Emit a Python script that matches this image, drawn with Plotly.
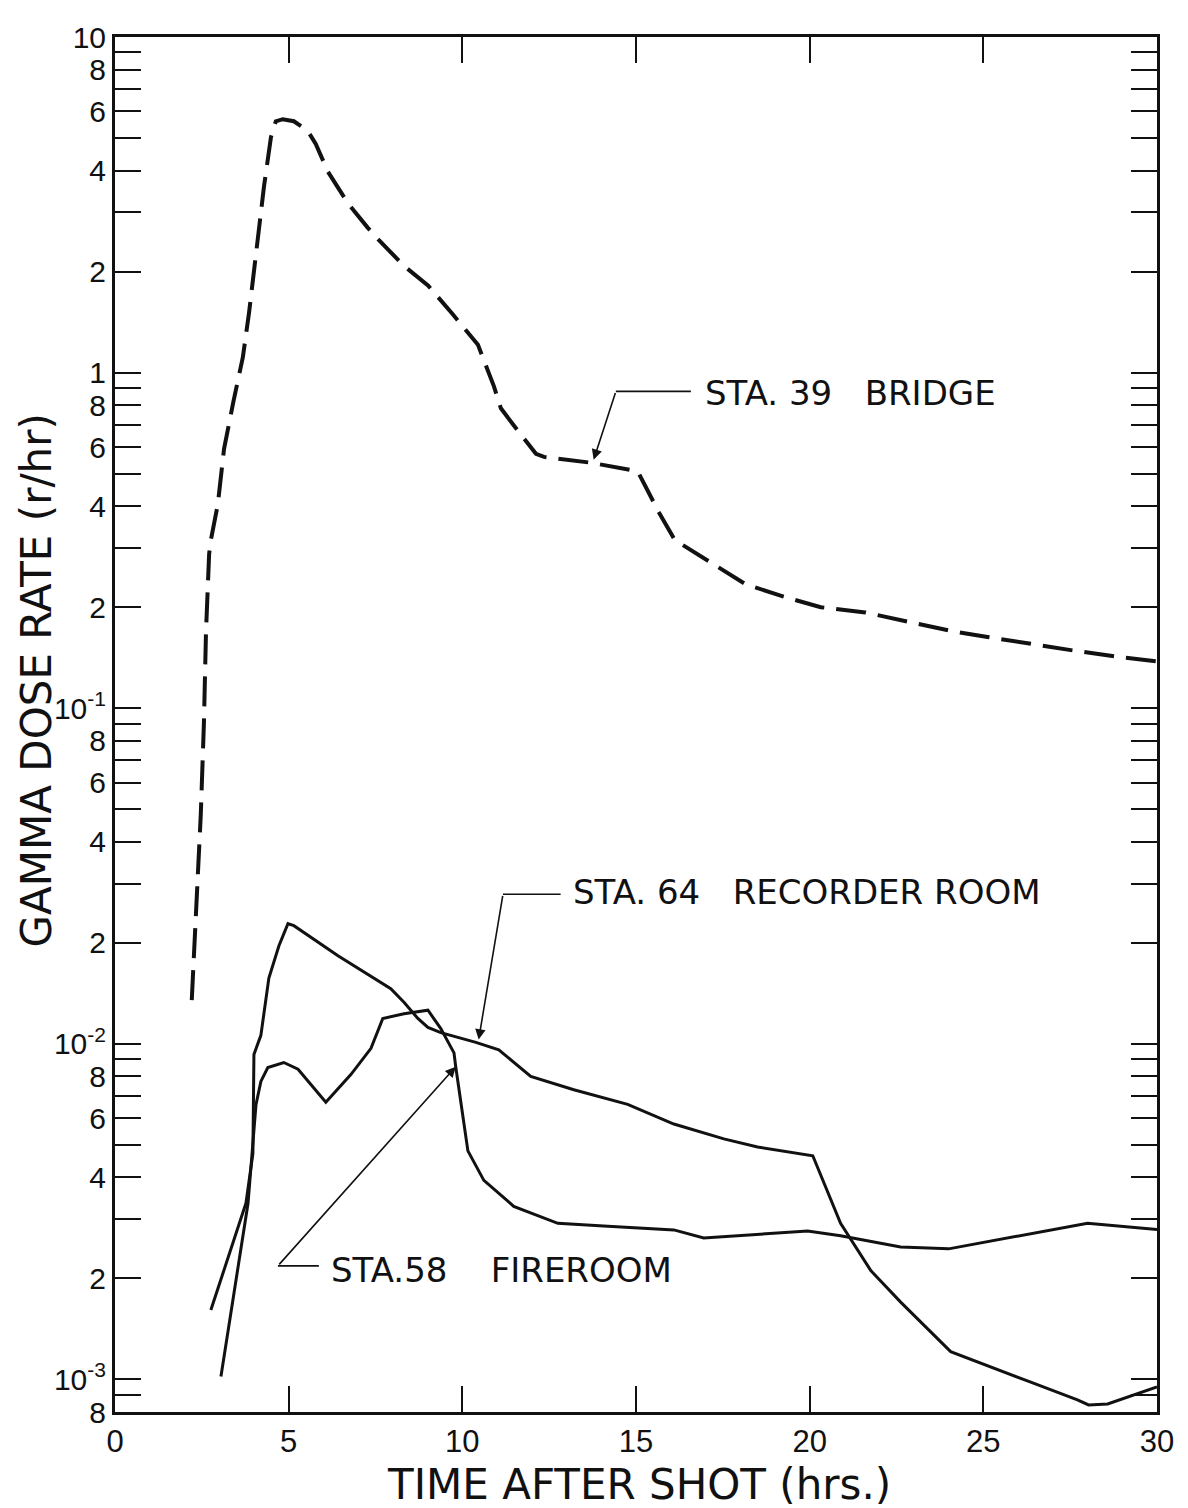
import numpy as np
import plotly.graph_objects as go

# ---------------- data ----------------
bridge_t = [2.21, 2.39, 2.47, 2.56, 2.62, 2.71, 2.76, 2.96, 3.14, 3.40,
            3.68, 3.86, 4.00, 4.12, 4.29, 4.49, 4.63, 4.83, 5.15, 5.55,
            5.78, 6.13, 6.71, 7.28, 7.60, 8.32, 9.01, 9.73, 10.45, 10.91,
            11.11, 11.45, 12.12, 12.35, 13.70, 15.05, 15.65, 16.12, 16.43, 18.16,
            19.25, 20.32, 21.6, 22.8, 24.06, 25.12, 26.4, 27.7, 28.95, 30.0]
bridge_rate = [0.0135, 0.0303, 0.0483, 0.0904, 0.169, 0.288, 0.317, 0.405, 0.593, 0.811,
               1.11, 1.51, 2.03, 2.61, 3.59, 5.03, 5.61, 5.69, 5.61, 5.25,
               4.80, 3.97, 3.19, 2.70, 2.48, 2.08, 1.82, 1.49, 1.21, 0.91,
               0.783, 0.703, 0.573, 0.561, 0.539, 0.508, 0.385, 0.317, 0.303, 0.234,
               0.215, 0.200, 0.193, 0.181, 0.170, 0.163, 0.155, 0.148, 0.142, 0.138]

recorder_t = [2.76, 3.77, 3.97, 4.00, 4.20, 4.43, 4.72, 4.98, 5.15, 6.42,
              7.94, 8.32, 8.72, 9.01, 9.38, 10.39, 11.05, 11.97, 13.21, 14.76,
              16.09, 17.53, 18.50, 20.09, 20.89, 21.76, 22.62, 24.06, 26.27, 27.71,
              28.03, 28.58, 30.0]
recorder_rate = [1.61e-3, 3.35e-3, 4.71e-3, 9.3e-3, 1.06e-2, 1.57e-2, 1.96e-2, 2.28e-2, 2.25e-2, 1.83e-2,
                 1.46e-2, 1.33e-2, 1.19e-2, 1.12e-2, 1.08e-2, 1.01e-2, 9.6e-3, 8.0e-3, 7.3e-3, 6.6e-3,
                 5.77e-3, 5.21e-3, 4.93e-3, 4.64e-3, 2.92e-3, 2.11e-3, 1.70e-3, 1.21e-3, 9.9e-4, 8.7e-4,
                 8.4e-4, 8.45e-4, 9.5e-4]

fireroom_t = [3.05, 3.83, 4.06, 4.20, 4.40, 4.86, 5.27, 6.07, 6.79, 7.37, 7.71,
              8.32, 9.01, 9.38, 9.76, 9.81, 10.16, 10.62, 11.48, 12.75, 14.19,
              16.09, 16.95, 19.94, 20.89, 22.62, 24.0, 28.0, 30.0]
fireroom_rate = [1.02e-3, 3.35e-3, 6.6e-3, 7.73e-3, 8.5e-3, 8.8e-3, 8.4e-3, 6.7e-3, 8.1e-3, 9.7e-3, 1.19e-2,
                 1.23e-2, 1.26e-2, 1.11e-2, 9.4e-3, 8.55e-3, 4.8e-3, 3.92e-3, 3.28e-3, 2.92e-3, 2.86e-3,
                 2.79e-3, 2.64e-3, 2.77e-3, 2.68e-3, 2.48e-3, 2.45e-3, 2.92e-3, 2.8e-3]

x_tick_vals = [0, 5, 10, 15, 20, 25, 30]
x_tick_text = ["0", "5", "10", "15", "20", "25", "30"]

y_tick_vals = [8e-4, 9e-4,
               1e-3, 2e-3, 3e-3, 4e-3, 5e-3, 6e-3, 7e-3, 8e-3, 9e-3,
               1e-2, 2e-2, 3e-2, 4e-2, 5e-2, 6e-2, 7e-2, 8e-2, 9e-2,
               1e-1, 2e-1, 3e-1, 4e-1, 5e-1, 6e-1, 7e-1, 8e-1, 9e-1,
               1, 2, 3, 4, 5, 6, 7, 8, 9, 10]
y_tick_text = ["8", "",
               "10<sup>-3</sup>", "2", "", "4", "", "6", "", "8", "",
               "10<sup>-2</sup>", "2", "", "4", "", "6", "", "8", "",
               "10<sup>-1</sup>", "2", "", "4", "", "6", "", "8", "",
               "1", "2", "", "4", "", "6", "", "8", "", "10"]

# label texts
label_bridge = "STA. 39   BRIDGE"
label_recorder = "STA. 64   RECORDER ROOM"
label_fireroom = "STA.58    FIREROOM"

# ---------------- figure ----------------
INK = "#111111"
fig = go.Figure()

fig.add_trace(go.Scatter(x=bridge_t, y=bridge_rate, mode="lines",
                         line=dict(color=INK, width=4, dash="30px,12px"),
                         hoverinfo="skip", showlegend=False))
fig.add_trace(go.Scatter(x=recorder_t, y=recorder_rate, mode="lines",
                         line=dict(color=INK, width=3),
                         hoverinfo="skip", showlegend=False))
fig.add_trace(go.Scatter(x=fireroom_t, y=fireroom_rate, mode="lines",
                         line=dict(color=INK, width=3),
                         hoverinfo="skip", showlegend=False))

# leader lines: (text end, corner, arrow tip)
leaders = [
    ((16.58, 0.879), (14.42, 0.879), (13.78, 0.550)),
    ((12.83, 0.0279), (11.17, 0.0279), (10.47, 0.0103)),
    ((5.87, 2.18e-3), (4.69, 2.18e-3), (9.81, 8.55e-3)),
]
annotations = []
for (p0, p1, tip) in leaders:
    fig.add_trace(go.Scatter(x=[p0[0], p1[0]], y=[p0[1], p1[1]], mode="lines",
                             line=dict(color=INK, width=1.6),
                             hoverinfo="skip", showlegend=False))
    annotations.append(dict(x=tip[0], y=np.log10(tip[1]), xref="x", yref="y",
                            ax=p1[0], ay=np.log10(p1[1]), axref="x", ayref="y",
                            text="", showarrow=True, arrowhead=2, arrowsize=1.3,
                            arrowwidth=1.6, arrowcolor=INK))

lab_font = dict(family="DejaVu Sans", size=34, color=INK)
for txt, xt, yv in [(label_bridge, 16.92, 0.867),
                    (label_recorder, 13.12, 0.02825),
                    (label_fireroom, 6.16, 2.12e-3)]:
    annotations.append(dict(x=xt, y=np.log10(yv), xref="x", yref="y", text=txt,
                            showarrow=False, xanchor="left", yanchor="middle",
                            font=lab_font))

# axis titles
annotations.append(dict(x=0.503, y=-0.053, xref="paper", yref="paper",
                        text="TIME AFTER SHOT (hrs.)", showarrow=False,
                        xanchor="center", yanchor="middle",
                        font=dict(family="DejaVu Sans", size=42, color=INK)))
annotations.append(dict(x=-0.0758, y=0.532, xref="paper", yref="paper",
                        text="GAMMA DOSE RATE (r/hr)", showarrow=False, textangle=-90,
                        xanchor="center", yanchor="middle", borderpad=0,
                        font=dict(family="DejaVu Sans", size=42, color=INK)))

fig.update_layout(
    width=1180, height=1500,
    margin=dict(l=107, r=31, t=14, b=96),
    paper_bgcolor="white", plot_bgcolor="white",
    annotations=annotations,
    showlegend=False,
)

fig.update_xaxes(range=[0, 30], tickvals=x_tick_vals, ticktext=x_tick_text,
                 ticks="inside", ticklen=26, tickwidth=2, tickcolor=INK,
                 showline=True, linewidth=3, linecolor=INK, mirror="allticks",
                 showgrid=False, zeroline=False, ticklabeloverflow="allow",
                 tickfont=dict(family="Liberation Sans", size=31, color=INK))
fig.update_yaxes(type="log", range=[np.log10(8e-4), 1],
                 tickvals=y_tick_vals, ticktext=y_tick_text,
                 ticks="inside", ticklen=26, tickwidth=2, tickcolor=INK,
                 showline=True, linewidth=3, linecolor=INK, mirror="allticks",
                 showgrid=False, zeroline=False, ticklabeloverflow="allow",
                 ticklabelstandoff=0,
                 tickfont=dict(family="Liberation Sans", size=30, color=INK))

fig.write_html("out.html")
